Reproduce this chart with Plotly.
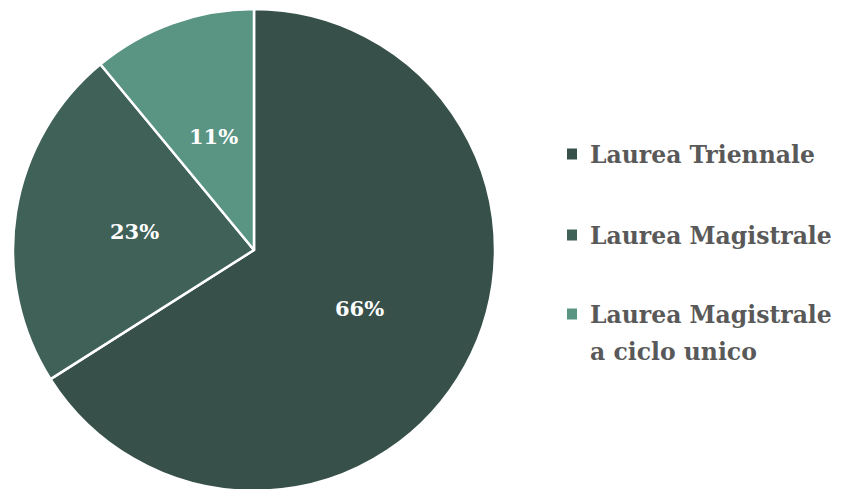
import math
import plotly.graph_objects as go

W, H = 842, 489
OFF = 8  # page body margin offset in the browser

labels = ["Laurea Triennale", "Laurea Magistrale", "Laurea Magistrale a ciclo unico"]
values = [66, 23, 11]
colors = ["#37504A", "#3F6158", "#5A9583"]

legend_lines = [["Laurea Triennale"], ["Laurea Magistrale"], ["Laurea Magistrale", "a ciclo unico"]]

# pie geometry in figure pixels
CX, CY, R = 254 - OFF, 250 - OFF, 241

fig = go.Figure(go.Pie(
    labels=labels,
    values=values,
    sort=False,
    direction="clockwise",
    rotation=0,
    marker=dict(colors=colors, line=dict(color="white", width=2.5)),
    textinfo="none",
    showlegend=False,
    hoverinfo="label+percent",
    domain=dict(x=[(CX - R) / W, (CX + R) / W], y=[1 - (CY + R) / H, 1 - (CY - R) / H]),
))

annotations = []
# percentage labels at half radius, mid-angle of each slice
total = sum(values)
cum = 0
for v in values:
    mid = (cum + v / 2) / total * 2 * math.pi
    cum += v
    px = CX + 0.5 * R * math.sin(mid)
    py = CY - 0.5 * R * math.cos(mid)
    annotations.append(dict(text="<b>%d%%</b>" % round(100 * v / total), xref="paper", yref="paper",
                            x=px / W, y=1 - py / H, xanchor="center", yanchor="middle",
                            showarrow=False,
                            font=dict(family="DejaVu Serif", size=21, color="white")))

# Legend drawn as shapes + text
sq_y = [154, 235, 314]
line_y = [[155], [236], [315, 352]]
shapes = []
for i, c in enumerate(colors):
    yc = sq_y[i] - OFF
    shapes.append(dict(type="rect", xref="paper", yref="paper",
                       x0=(567 - OFF) / W, x1=(577 - OFF) / W,
                       y0=1 - (yc + 5.5) / H, y1=1 - (yc - 5.5) / H,
                       fillcolor=c, line=dict(width=0)))
    for txt, ly in zip(legend_lines[i], line_y[i]):
        annotations.append(dict(text="<b>%s</b>" % txt, xref="paper", yref="paper",
                                x=(588 - OFF) / W, y=1 - (ly - OFF) / H, xanchor="left", yanchor="middle",
                                showarrow=False,
                                font=dict(family="DejaVu Serif", size=23.5, color="#595959")))

fig.update_layout(
    width=W, height=H,
    margin=dict(l=0, r=0, t=0, b=0),
    paper_bgcolor="white",
    plot_bgcolor="white",
    shapes=shapes,
    annotations=annotations,
)

fig.write_html("out.html")
